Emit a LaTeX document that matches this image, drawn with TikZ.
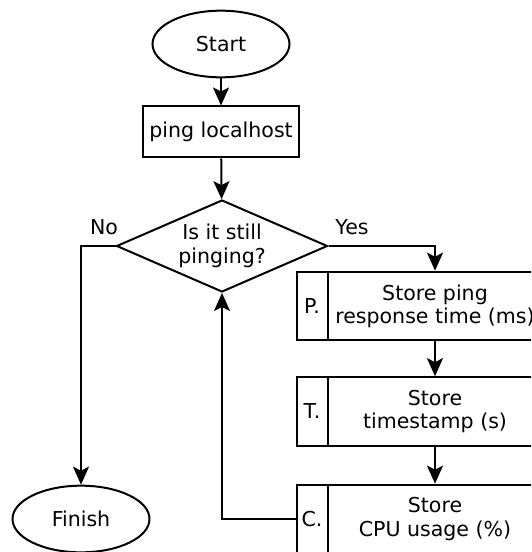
\documentclass[tikz,border=0pt]{standalone}
\usepackage{fontspec}
\setmainfont{DejaVu Sans}
\usetikzlibrary{shapes.geometric,arrows.meta}
\begin{document}
\begin{tikzpicture}[x=0.75pt,y=-0.75pt,
  font=\fontsize{15.4pt}{17.5pt}\selectfont,
  line width=1.5pt,
  terminal/.style={draw,ellipse,inner sep=0pt,minimum width=102.75pt,minimum height=50pt},
  procbox/.style={draw,rectangle,inner sep=0pt,minimum width=117pt,minimum height=38.25pt},
  storebox/.style={draw,rectangle,inner sep=0pt,align=center,minimum width=207pt,minimum height=51.5pt},
  decision/.style={draw,diamond,aspect=2.3,inner sep=0pt,align=center,minimum width=158.25pt,minimum height=69pt},
  tag/.style={inner sep=0pt},
  flow/.style={-{Stealth[length=13.5pt,width=12pt,inset=3pt]}}
]
\useasboundingbox (0,0) rectangle (531,552);
\clip (0,0) rectangle (531,552);

% steps of the flow
\node[terminal] (start) at (221,44) {Start};
\node[procbox] (ping) at (221,132) {ping localhost};
\node[decision] (dec) at (222,246) {Is it still\\pinging?};
\node[storebox] (P) at (435,306) {Store ping\\response time (ms)};
\node[storebox] (T) at (435,411.5) {Store\\timestamp (s)};
\node[storebox] (C) at (435,519) {Store\\CPU usage (\%)};
\node[terminal] (finish) at (81,519) {Finish};

% side stripes on the store boxes
\foreach \b/\l in {P/P., T/T., C/C.}{
  \draw (328,0 |- \b.north) -- (328,0 |- \b.south);
  \node[tag] at (312,0 |- \b.center) {\l};
}

% branch labels
\node[tag] (no) at (104,227) {No};
\node[tag] (yes) at (352,227) {Yes};

% connectors
\draw[flow] (start) -- (ping);
\draw[flow] (ping) -- (dec);
\draw[flow] (dec.east) -| (P.north);
\draw[flow] (P) -- (T);
\draw[flow] (T) -- (C);
\draw[flow] (C.west) -| (dec.south);
\draw[flow] (dec.west) -| (finish.north);
\end{tikzpicture}
\end{document}
